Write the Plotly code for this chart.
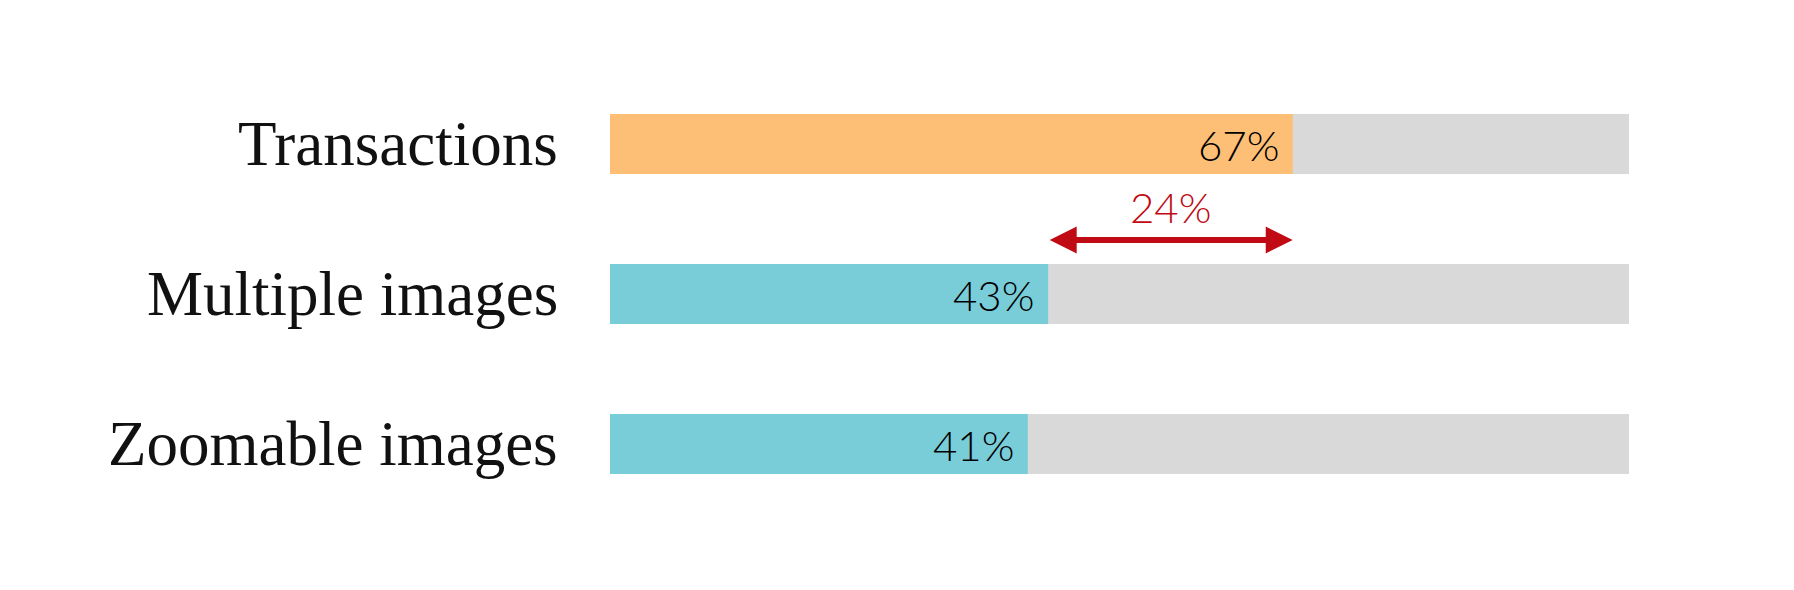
import plotly.graph_objects as go

categories = ["Transactions", "Multiple images", "Zoomable images"]
values = [67, 43, 41]
bar_colors = ["#FDBF76", "#79CDD8", "#79CDD8"]
track_max = [100, 100, 100]
diff_from = 43
diff_to = 67
diff_label = "24%"

ypos = list(range(len(categories)))

fig = go.Figure()
fig.add_trace(go.Bar(x=track_max, y=ypos, orientation="h", marker=dict(color="#D9D9D9", line=dict(width=0)),
                     width=0.4, hoverinfo="skip", showlegend=False))
fig.add_trace(go.Bar(x=values, y=ypos, orientation="h", marker=dict(color=bar_colors, line=dict(width=0)),
                     width=0.4, hoverinfo="skip", showlegend=False))

annotations = []
for i, (c, v) in enumerate(zip(categories, values)):
    annotations.append(dict(x=0, y=i, xref="paper", yref="y", text=c, showarrow=False,
                            xanchor="right", yanchor="middle", xshift=-50,
                            font=dict(family="Liberation Serif", size=63, color="#111111")))
    annotations.append(dict(x=v, y=i, xref="x", yref="y", text=f"{v}%", showarrow=False,
                            xanchor="right", yanchor="middle", xshift=-12, yshift=-1,
                            font=dict(family="Lato", size=42, color="#000000", weight=300)))

arrow_y = 0.64
annotations.append(dict(x=diff_to, y=arrow_y, ax=diff_from, ay=arrow_y, xref="x", yref="y",
                        axref="x", ayref="y", text="", showarrow=True, arrowhead=2,
                        arrowside="end+start", arrowsize=0.9, arrowwidth=6, arrowcolor="#C00A14",
                        standoff=0, startstandoff=0))
annotations.append(dict(x=(diff_from + diff_to) / 2, y=0.43, xref="x", yref="y", text=diff_label,
                        showarrow=False, xanchor="center", yanchor="middle", yshift=2,
                        font=dict(family="Lato", size=42, color="#C00A14", weight=300)))

fig.update_layout(
    width=1794, height=590,
    margin=dict(l=602, r=173, t=61, b=79),
    paper_bgcolor="white", plot_bgcolor="white",
    barmode="overlay",
    xaxis=dict(range=[0, 100], visible=False, fixedrange=True),
    yaxis=dict(range=[2.5, -0.5], visible=False, fixedrange=True),
    annotations=annotations,
)

fig.write_html("out.html")
